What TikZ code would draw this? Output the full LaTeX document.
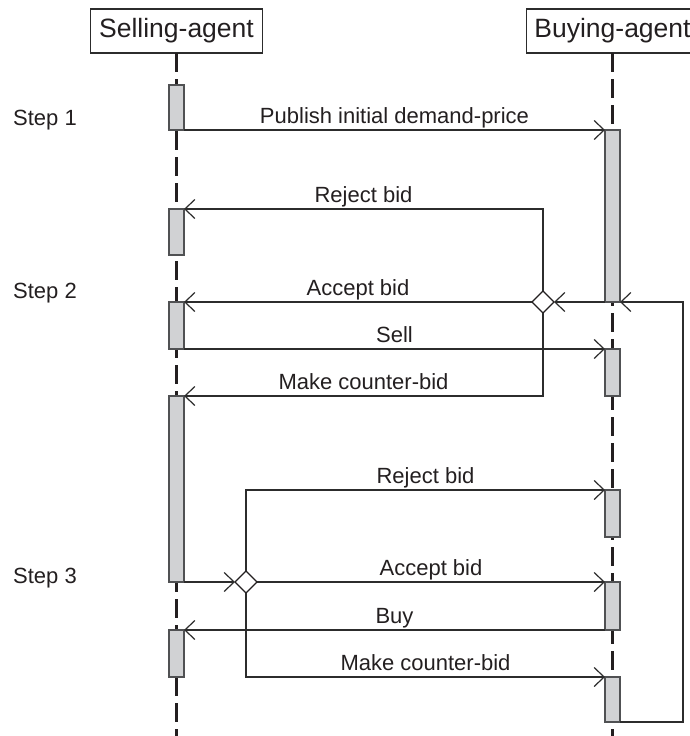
\documentclass[tikz,border=0pt]{standalone}
\usepackage{fontspec}
\setmainfont{Liberation Sans}
\usetikzlibrary{arrows.meta,shapes.geometric,calc}
\definecolor{ink}{HTML}{231F20}
\definecolor{barfill}{HTML}{D1D2D4}
\definecolor{barline}{HTML}{505153}
\definecolor{wire}{HTML}{2C2C2C}
\tikzset{
  agent/.style={draw=wire, line width=1.1pt, minimum width=172pt, minimum height=44pt,
    inner sep=0pt, outer sep=0pt, text=ink, font=\fontsize{26.5}{31}\selectfont},
  lifeline/.style={draw=ink, line width=2.2pt, dash pattern=on 19pt off 7pt},
  actbar/.style={draw=barline, fill=barfill, line width=1.5pt, minimum width=15pt,
    inner sep=0pt, outer sep=0pt, anchor=north},
  choice/.style={draw=ink, fill=white, diamond, minimum width=22pt, minimum height=22pt,
    inner sep=0pt, outer sep=0pt, line width=1.2pt},
  msg/.style={draw=wire, line width=1.4pt,
    -{Straight Barb[length=10pt,width=19pt,line width=1.2pt]}},
  msglabel/.style={anchor=base, inner sep=0pt, text=ink,
    font=\fontsize{22}{26}\selectfont, yshift=6.5pt},
  steplabel/.style={anchor=base west, inner sep=0pt, text=ink,
    font=\fontsize{22}{26}\selectfont},
}
\begin{document}
\begin{tikzpicture}[x=1pt,y=-1pt]
  \useasboundingbox (0,0) rectangle (690,736);
  \clip (0,0) rectangle (690,736);

  % agents
  \node[agent] (sell) at (176.5,31) {Selling-agent};
  \node[agent] (buy)  at (612.5,31) {Buying-agent};

  % lifelines
  \coordinate (sellend) at (176.5,736);
  \coordinate (buyend)  at (612.5,736);
  \draw[lifeline] (sell.south) -- (sellend);
  \draw[lifeline] (buy.south) -- (buyend);

  % step labels
  \node[steplabel] (st1) at (13,125) {Step 1};
  \node[steplabel] (st2) at (13,298) {Step 2};
  \node[steplabel] (st3) at (13,583) {Step 3};

  % activation bars of the selling agent
  \node[actbar, minimum height=45pt]  (s1) at (176.5,85)  {};
  \node[actbar, minimum height=46pt]  (s2) at (176.5,209) {};
  \node[actbar, minimum height=47pt]  (s3) at (176.5,302) {};
  \node[actbar, minimum height=186pt] (s4) at (176.5,396) {};
  \node[actbar, minimum height=47pt]  (s5) at (176.5,630) {};

  % activation bars of the buying agent
  \node[actbar, minimum height=172pt] (b1) at (612.5,130) {};
  \node[actbar, minimum height=47pt]  (b2) at (612.5,349) {};
  \node[actbar, minimum height=47pt]  (b3) at (612.5,490) {};
  \node[actbar, minimum height=48pt]  (b4) at (612.5,582) {};
  \node[actbar, minimum height=45pt]  (b5) at (612.5,677) {};

  % decision points
  \node[choice] (d1) at (543,302) {};
  \node[choice] (d2) at (246,582) {};

  % step 1
  \draw[msg] (s1.south east) -- (b1.north west);
  \node[msglabel] (m1) at ($(s1.south east)!0.5!(b1.north west)$) {Publish initial demand-price};

  % step 2: seller's choice
  \draw[msg] (b1.south west) -- (d1.east);
  \draw[msg] (d1.north) |- (s2.north east);
  \node[msglabel] (m2) at ($(s2.north east)!0.5!(d1.north |- s2.north east)$) {Reject bid};
  \draw[msg] (d1.west) -- (s3.north east);
  \node[msglabel] (m3) at ($(s3.north east)!0.5!(d1.west)$) {Accept bid};
  \draw[msg] (s3.south east) -- (b2.north west);
  \node[msglabel] (m4) at ($(s3.south east)!0.5!(b2.north west)$) {Sell};
  \draw[msg] (d1.south) |- (s4.north east);
  \node[msglabel] (m5) at ($(s4.north east)!0.5!(d1.south |- s4.north east)$) {Make counter-bid};

  % step 3: buyer's choice
  \draw[msg] (s4.south east) -- (d2.west);
  \draw[msg] (d2.north) |- (b3.north west);
  \node[msglabel] (m6) at ($(d2.north |- b3.north west)!0.5!(b3.north west)$) {Reject bid};
  \draw[msg] (d2.east) -- (b4.north west);
  \node[msglabel] (m7) at ($(d2.east)!0.5!(b4.north west)$) {Accept bid};
  \draw[msg] (b4.south west) -- (s5.north east);
  \node[msglabel] (m8) at ($(s5.north east)!0.5!(b4.south west)$) {Buy};
  \draw[msg] (d2.south) |- (b5.north west);
  \node[msglabel] (m9) at ($(d2.south |- b5.north west)!0.5!(b5.north west)$) {Make counter-bid};

  % loop back to the next round
  \coordinate (loopcorner) at (683,722);
  \draw[msg] (b5.south east) -- (loopcorner) |- (b1.south east);
\end{tikzpicture}
\end{document}
